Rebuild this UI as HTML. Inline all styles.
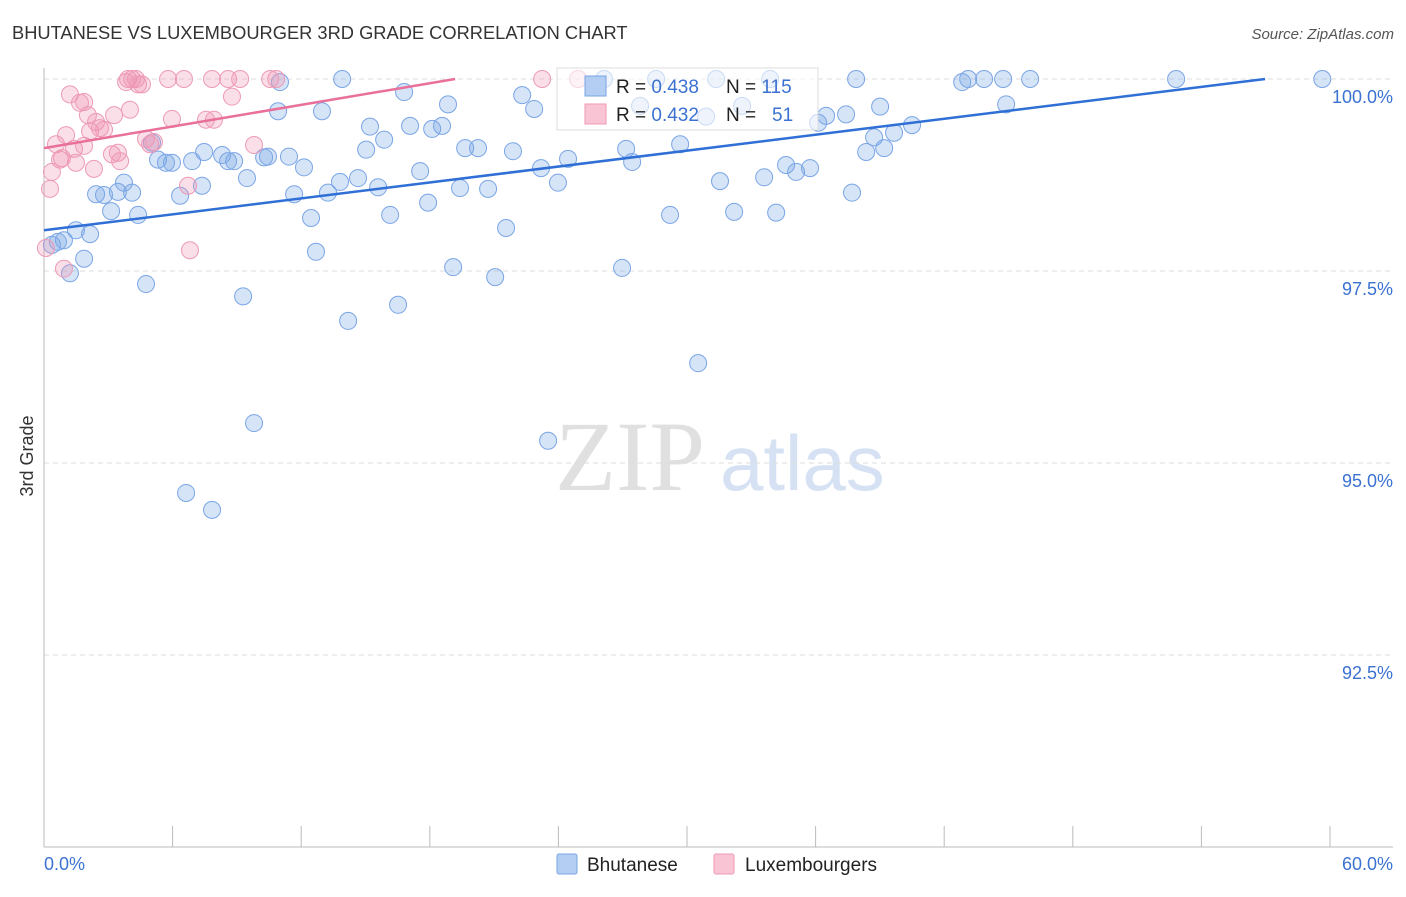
<!DOCTYPE html>
<html><head><meta charset="utf-8"><style>
body{margin:0;background:#fff;font-family:"Liberation Sans",sans-serif;}
</style></head><body>
<svg id="chart" width="1406" height="892" style="font-family:'Liberation Sans',sans-serif">
<text x="12" y="39" font-size="18.3" fill="#333">BHUTANESE VS LUXEMBOURGER 3RD GRADE CORRELATION CHART</text>
<text x="1394" y="39" font-size="15" fill="#555" font-style="italic" text-anchor="end">Source: ZipAtlas.com</text>
<text x="33" y="456" font-size="18" fill="#333" text-anchor="middle" transform="rotate(-90 33 456)">3rd Grade</text>
<g><text x="555" y="490" font-size="100" fill="#e0e0e0" style="font-family:'Liberation Serif',serif">ZIP</text><text x="720" y="490" font-size="78" fill="#d6e2f4">atlas</text></g>
<g id="grid"></g><g id="axes"></g><g id="pts"></g><g id="trend"></g>
<g>
<rect x="557" y="68" width="261" height="62" fill="rgba(255,255,255,0.6)" stroke="#ddd"/>
<rect x="585" y="76" width="21" height="20" fill="#b3cdf3" stroke="#7aa5e6"/>
<rect x="585" y="104" width="21" height="20" fill="#f9c5d5" stroke="#ee9ab5"/>
<text x="616" y="93" font-size="19" fill="#222">R = <tspan fill="#3b72d2">0.438</tspan><tspan x="726">N = </tspan><tspan fill="#3b72d2">115</tspan></text>
<text x="616" y="121" font-size="19" fill="#222">R = <tspan fill="#3b72d2">0.432</tspan><tspan x="726">N = </tspan><tspan fill="#3b72d2" x="772">51</tspan></text>
</g>
<g>
<rect x="557" y="854" width="20" height="20" fill="#b3cdf3" stroke="#7aa5e6" rx="2"/>
<text x="587" y="871" font-size="19" fill="#222">Bhutanese</text>
<rect x="714" y="854" width="20" height="20" fill="#f9c5d5" stroke="#ee9ab5" rx="2"/>
<text x="745" y="871" font-size="19" fill="#222">Luxembourgers</text>
</g>
</svg>
<script>
const blueX=[0.37,0.65,0.93,1.21,1.49,1.87,2.15,2.43,2.80,3.13,3.45,3.73,4.11,4.39,4.76,5.04,5.32,5.69,5.97,6.35,6.63,6.91,7.37,7.47,7.84,8.31,8.59,8.87,9.29,9.47,9.80,10.27,10.45,10.92,11.01,11.43,11.67,12.13,12.46,12.69,12.97,13.25,13.81,13.91,14.19,14.65,15.03,15.21,15.59,15.87,16.15,16.52,16.80,17.08,17.55,17.92,18.11,18.57,18.85,19.09,19.41,19.65,20.25,20.72,21.05,21.56,21.88,22.31,22.87,23.19,23.52,23.98,24.45,26.13,26.97,27.16,27.44,27.81,28.56,29.21,29.68,30.52,30.89,31.36,31.54,32.20,32.57,33.60,33.88,34.16,34.62,35.09,35.74,36.12,36.49,37.42,37.70,37.89,38.36,38.73,39.01,39.20,39.66,40.50,42.84,43.12,43.86,44.75,44.89,46.01,52.82,59.64];
const blueY=[97.84,97.88,97.90,97.47,98.03,97.66,97.98,98.50,98.49,98.28,98.53,98.65,98.52,98.23,97.33,99.17,98.95,98.91,98.91,98.48,94.61,98.93,98.61,99.05,94.39,99.01,98.93,98.93,97.17,98.71,95.52,98.98,98.99,99.58,99.96,98.99,98.50,98.85,98.19,97.75,99.58,98.52,98.66,100,96.85,98.71,99.08,99.38,98.59,99.21,98.23,97.06,99.83,99.39,98.80,98.39,99.35,99.39,99.67,97.55,98.58,99.10,99.10,98.57,97.42,98.06,99.06,99.79,99.61,98.84,95.29,98.65,98.96,100,97.54,99.09,98.92,99.65,100,98.23,99.15,96.30,99.51,100,98.67,98.27,99.65,98.72,100,98.26,98.88,98.79,98.84,99.43,99.52,99.54,98.52,100,99.05,99.24,99.64,99.10,99.30,99.40,99.96,100,100,100,99.67,100,100,100];
const pinkX=[0.28,0.37,0.56,0.75,0.84,1.03,1.21,1.40,1.49,1.68,1.87,1.87,2.05,2.15,2.33,2.43,2.61,2.80,3.17,3.27,3.45,3.55,3.83,3.92,4.01,4.11,4.29,4.39,4.57,4.76,4.95,5.13,5.79,5.97,6.53,6.72,6.81,7.56,7.84,7.93,8.59,8.77,9.15,9.80,10.55,10.83,23.24,24.92,0.93,0.09];
const pinkY=[98.57,98.79,99.15,98.95,98.97,99.27,99.80,99.09,98.91,99.69,99.70,99.13,99.53,99.32,98.83,99.44,99.36,99.34,99.02,99.53,99.04,98.93,99.96,100,99.60,100,100,99.93,99.93,99.22,99.15,99.18,100,99.48,100,98.61,97.77,99.47,100,99.47,100,99.77,100,99.14,100,100,100,100,97.53,97.80];
const trendBlue=[98.03,100,56.97];
const trendPink=[99.10,100,19.18];
const yTicks=[100,97.5,95,92.5];
const yTickLabels=["100.0%","97.5%","95.0%","92.5%"];
const xTicks=[0,6,12,18,24,30,36,42,48,54,60];
const NS='http://www.w3.org/2000/svg';
const X0=44,X1=1330,XMIN=0,XMAX=60,YTOP=79,YBOT=847,YMAX=100,YMIN=90;
const sx=v=>X0+(v-XMIN)/(XMAX-XMIN)*(X1-X0);
const sy=v=>YTOP+(YMAX-v)/(YMAX-YMIN)*(YBOT-YTOP);
function mk(t,a,p){const e=document.createElementNS(NS,t);for(const k in a)e.setAttribute(k,a[k]);p.appendChild(e);return e;}
const grid=document.getElementById('grid'),axes=document.getElementById('axes'),pts=document.getElementById('pts'),tr=document.getElementById('trend');
yTicks.forEach((v,i)=>{
 const l=mk('line',{x1:X0,x2:1393,y1:sy(v),y2:sy(v),stroke:'#ddd','stroke-dasharray':'5,4'},grid);
 
 
 const t=mk('text',{x:1393,y:sy(v)+24,'font-size':18,fill:'#3b72d2','text-anchor':'end'},axes);
 t.textContent=yTickLabels[i];
 
 
});
const ax=mk('line',{x1:X0,x2:X0,y1:68,y2:YBOT,stroke:'#bbb'},axes);


const bx=mk('line',{x1:X0,x2:1393,y1:YBOT,y2:YBOT,stroke:'#bbb'},axes);


xTicks.forEach(v=>{
 const t=mk('line',{x1:sx(v),x2:sx(v),y1:826,y2:YBOT,stroke:'#bbb'},axes);
 
 
});
[['0.0%',44,'start'],['60.0%',1393,'end']].forEach(a=>{
 const t=mk('text',{x:a[1],y:870,'font-size':18,fill:'#3b72d2','text-anchor':a[2]},axes);
 t.textContent=a[0];
 
 
});
blueX.forEach((v,i)=>{
 const c=mk('circle',{cx:sx(v),cy:sy(blueY[i]),r:8.5,fill:'rgba(120,165,230,0.3)',stroke:'#7aa5e6','stroke-width':1},pts);
 
 
});
pinkX.forEach((v,i)=>{
 const c=mk('circle',{cx:sx(v),cy:sy(pinkY[i]),r:8.5,fill:'rgba(240,150,180,0.3)',stroke:'#ee9ab5','stroke-width':1},pts);
 
 
});
const lb=mk('line',{x1:sx(0),y1:sy(trendBlue[0]),x2:sx(trendBlue[2]),y2:sy(trendBlue[1]),stroke:'#2f6fd6','stroke-width':2.5},tr);


const lp=mk('line',{x1:sx(0),y1:sy(trendPink[0]),x2:sx(trendPink[2]),y2:sy(trendPink[1]),stroke:'#e8709a','stroke-width':2.5},tr);


</script>
</body></html>
